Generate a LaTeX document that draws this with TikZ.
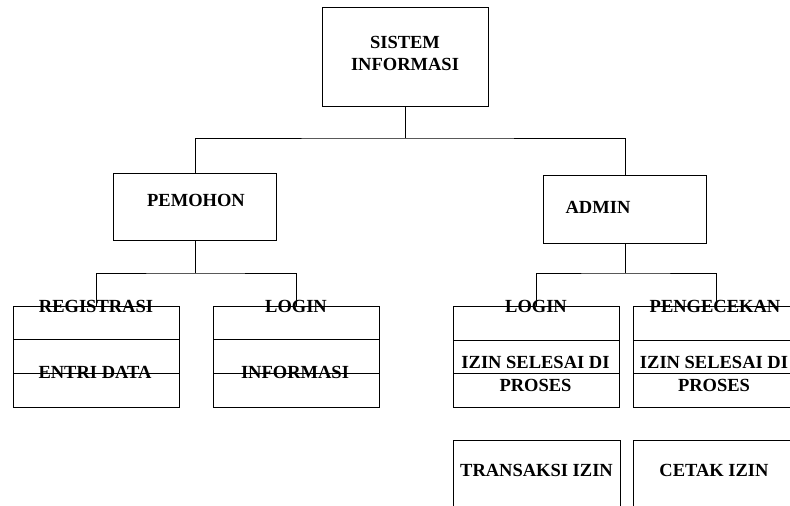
\documentclass[tikz,border=0pt]{standalone}
\usepackage{fontspec}
\setmainfont{Liberation Serif}
\begin{document}
\begin{tikzpicture}[x=1pt, y=-1pt, line width=0.8pt,
		kotak/.style={draw, inner sep=0pt, minimum width=#1},
		kotak/.default=166pt,
		teks/.style={inner sep=0pt, align=center,
			font=\fontsize{18.5}{22.5}\selectfont\bfseries}]

					% Page frame, the right column runs off the edge
						\useasboundingbox (0,0) rectangle (790,506);
						\clip (0,0) rectangle (790,506);

					% Top level and the two actors
						\node [kotak, minimum height=99pt] (sistem) at (405,56.5) {};
						\node [kotak=163pt, minimum height=67pt] (pemohon) at (195,206.5) {};
						\node [kotak=163pt, minimum height=68pt] (admin) at (625,209) {};

					% Boxes of three rows each
						\foreach \nama/\x/\y in {
							reg/96/356.5,
							logp/296/356.5,
							loga/536.5/357,
							cek/716/357} {
								\node [kotak, minimum height=101pt] (\nama) at (\x,\y) {};
								\draw (\x-83,\y-16.8) -- (\x+83,\y-16.8);
								\draw (\x-83,\y+16.8) -- (\x+83,\y+16.8);
								}

					% Open boxes at the bottom
						\node [kotak=167pt, minimum height=120pt] (trans) at (536.5,500) {};
						\node [kotak, minimum height=120pt] (cetak) at (716,500) {};

					% Labels
						\foreach \x/\y/\lab in {
							405/53.5/{SISTEM\\INFORMASI},
							196/200/PEMOHON,
							598/207/ADMIN,
							96/306.5/REGISTRASI,
							95/372/ENTRI DATA,
							296/306.5/LOGIN,
							295/372/INFORMASI,
							536/306.5/LOGIN,
							535.5/374/{IZIN SELESAI DI\\PROSES},
							715/306.5/PENGECEKAN,
							714/374/{IZIN SELESAI DI\\PROSES},
							536.5/470/TRANSAKSI IZIN,
							714/470/CETAK IZIN} {
								\node [teks] at (\x,\y) {\lab};
								}

					% Connectors
						\coordinate (cabang) at (sistem.south |- 0,138);
						\coordinate (cabangP) at (pemohon.south |- 0,273);
						\coordinate (cabangA) at (admin.south |- 0,273);
						\draw (sistem.south) -- (cabang);
						\draw (pemohon.north) |- (cabang) -| (admin.north);
						\draw (pemohon.south) -- (cabangP);
						\draw (reg.north) |- (cabangP) -| (logp.north);
						\draw (admin.south) -- (cabangA);
						\draw (loga.north) |- (cabangA) -| (cek.north);

					\end{tikzpicture}
\end{document}
